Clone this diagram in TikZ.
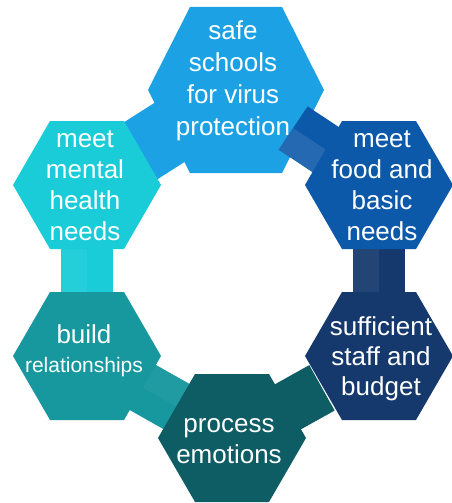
\documentclass[tikz,border=0pt]{standalone}
\usepackage{fontspec}
\setmainfont{Liberation Sans}
\usetikzlibrary{calc}
\definecolor{cTop}{HTML}{1BA1E4}
\definecolor{cMental}{HTML}{1ACCD8}
\definecolor{cFood}{HTML}{0C58A9}
\definecolor{cBuild}{HTML}{17979E}
\definecolor{cProc}{HTML}{0E5C64}
\definecolor{cSuff}{HTML}{15396D}
\newcommand{\hexfill}[6]{%
  \fill[#6] (#1-#3,#2) -- (#1-#5,#2-#4) -- (#1+#5,#2-#4) -- (#1+#3,#2)
    -- (#1+#5,#2+#4) -- (#1-#5,#2+#4) -- cycle;}
\begin{document}
\begin{tikzpicture}[x=1pt,y=-1pt,
  hextext/.style={text=white, align=center, inner sep=0pt, anchor=base,
    font=\fontsize{26}{31}\selectfont},
  band/.style={line width=52pt},
  halfband/.style={line width=26pt},
  wideband/.style={line width=66pt}]
\useasboundingbox (0,0) rectangle (451,503);
\fill[white] (0,0) rectangle (451,503);
% hexagon centres
\coordinate (top) at (236,90);
\coordinate (mental) at (87,185);
\coordinate (food) at (379,185);
\coordinate (build) at (87,356);
\coordinate (suff) at (379,356);
\coordinate (proc) at (232,438);
\coordinate (foodend) at ($(food)!103pt!(top)$);
\coordinate (procend) at ($(proc)!103pt!(suff)$);
% top hexagon
\hexfill{236}{90}{88}{83}{46}{cTop}
% food band over top hexagon
\draw[band, cFood] (food) -- (foodend);
\draw[halfband, cFood!90!white] ($(food)!13pt!90:(top)$) -- ($(foodend)!13pt!-90:(food)$);
% sufficient band (under food hexagon)
\draw[band, cSuff] (suff) -- (food);
\draw[halfband, cSuff!94!white] ($(suff)!13pt!90:(food)$) -- ($(food)!13pt!-90:(suff)$);
% sufficient hexagon
\hexfill{379}{356}{74}{64}{37}{cSuff}
% process band over sufficient hexagon
\draw[band, cProc] (proc) -- (procend);
% bands under hexagons
\draw[wideband, cTop] (top) -- (mental);
\draw[band, cMental] (mental) -- (build);
\draw[halfband, cMental!95!white] ($(mental)!13pt!-90:(build)$) -- ($(build)!13pt!90:(mental)$);
\draw[band, cBuild] (build) -- (proc);
\draw[halfband, cBuild!96!white] ($(build)!13pt!90:(proc)$) -- ($(proc)!13pt!-90:(build)$);
% remaining hexagons
\hexfill{379}{185}{74}{64}{37}{cFood}
\hexfill{87}{185}{74}{64}{37}{cMental}
\hexfill{87}{356}{74}{64}{37}{cBuild}
\hexfill{232}{438}{74}{64}{37}{cProc}
% texts
\node[hextext, font=\fontsize{26}{32}\selectfont] (ttop) at (233,135) {safe\\schools\\for virus\\protection};
\node[hextext] (tmental) at (85,240) {meet\\mental\\health\\needs};
\node[hextext] (tfood) at (382,240) {meet\\food and\\basic\\needs};
\node[hextext, font=\fontsize{26}{30}\selectfont] (tsuff) at (381,395) {sufficient\\staff and\\budget};
\node[hextext] (tbuild) at (84,372) {build\\[-2pt]{\fontsize{21}{25}\selectfont relationships}};
\node[hextext] (tproc) at (229,463) {process\\emotions};
\end{tikzpicture}
\end{document}
